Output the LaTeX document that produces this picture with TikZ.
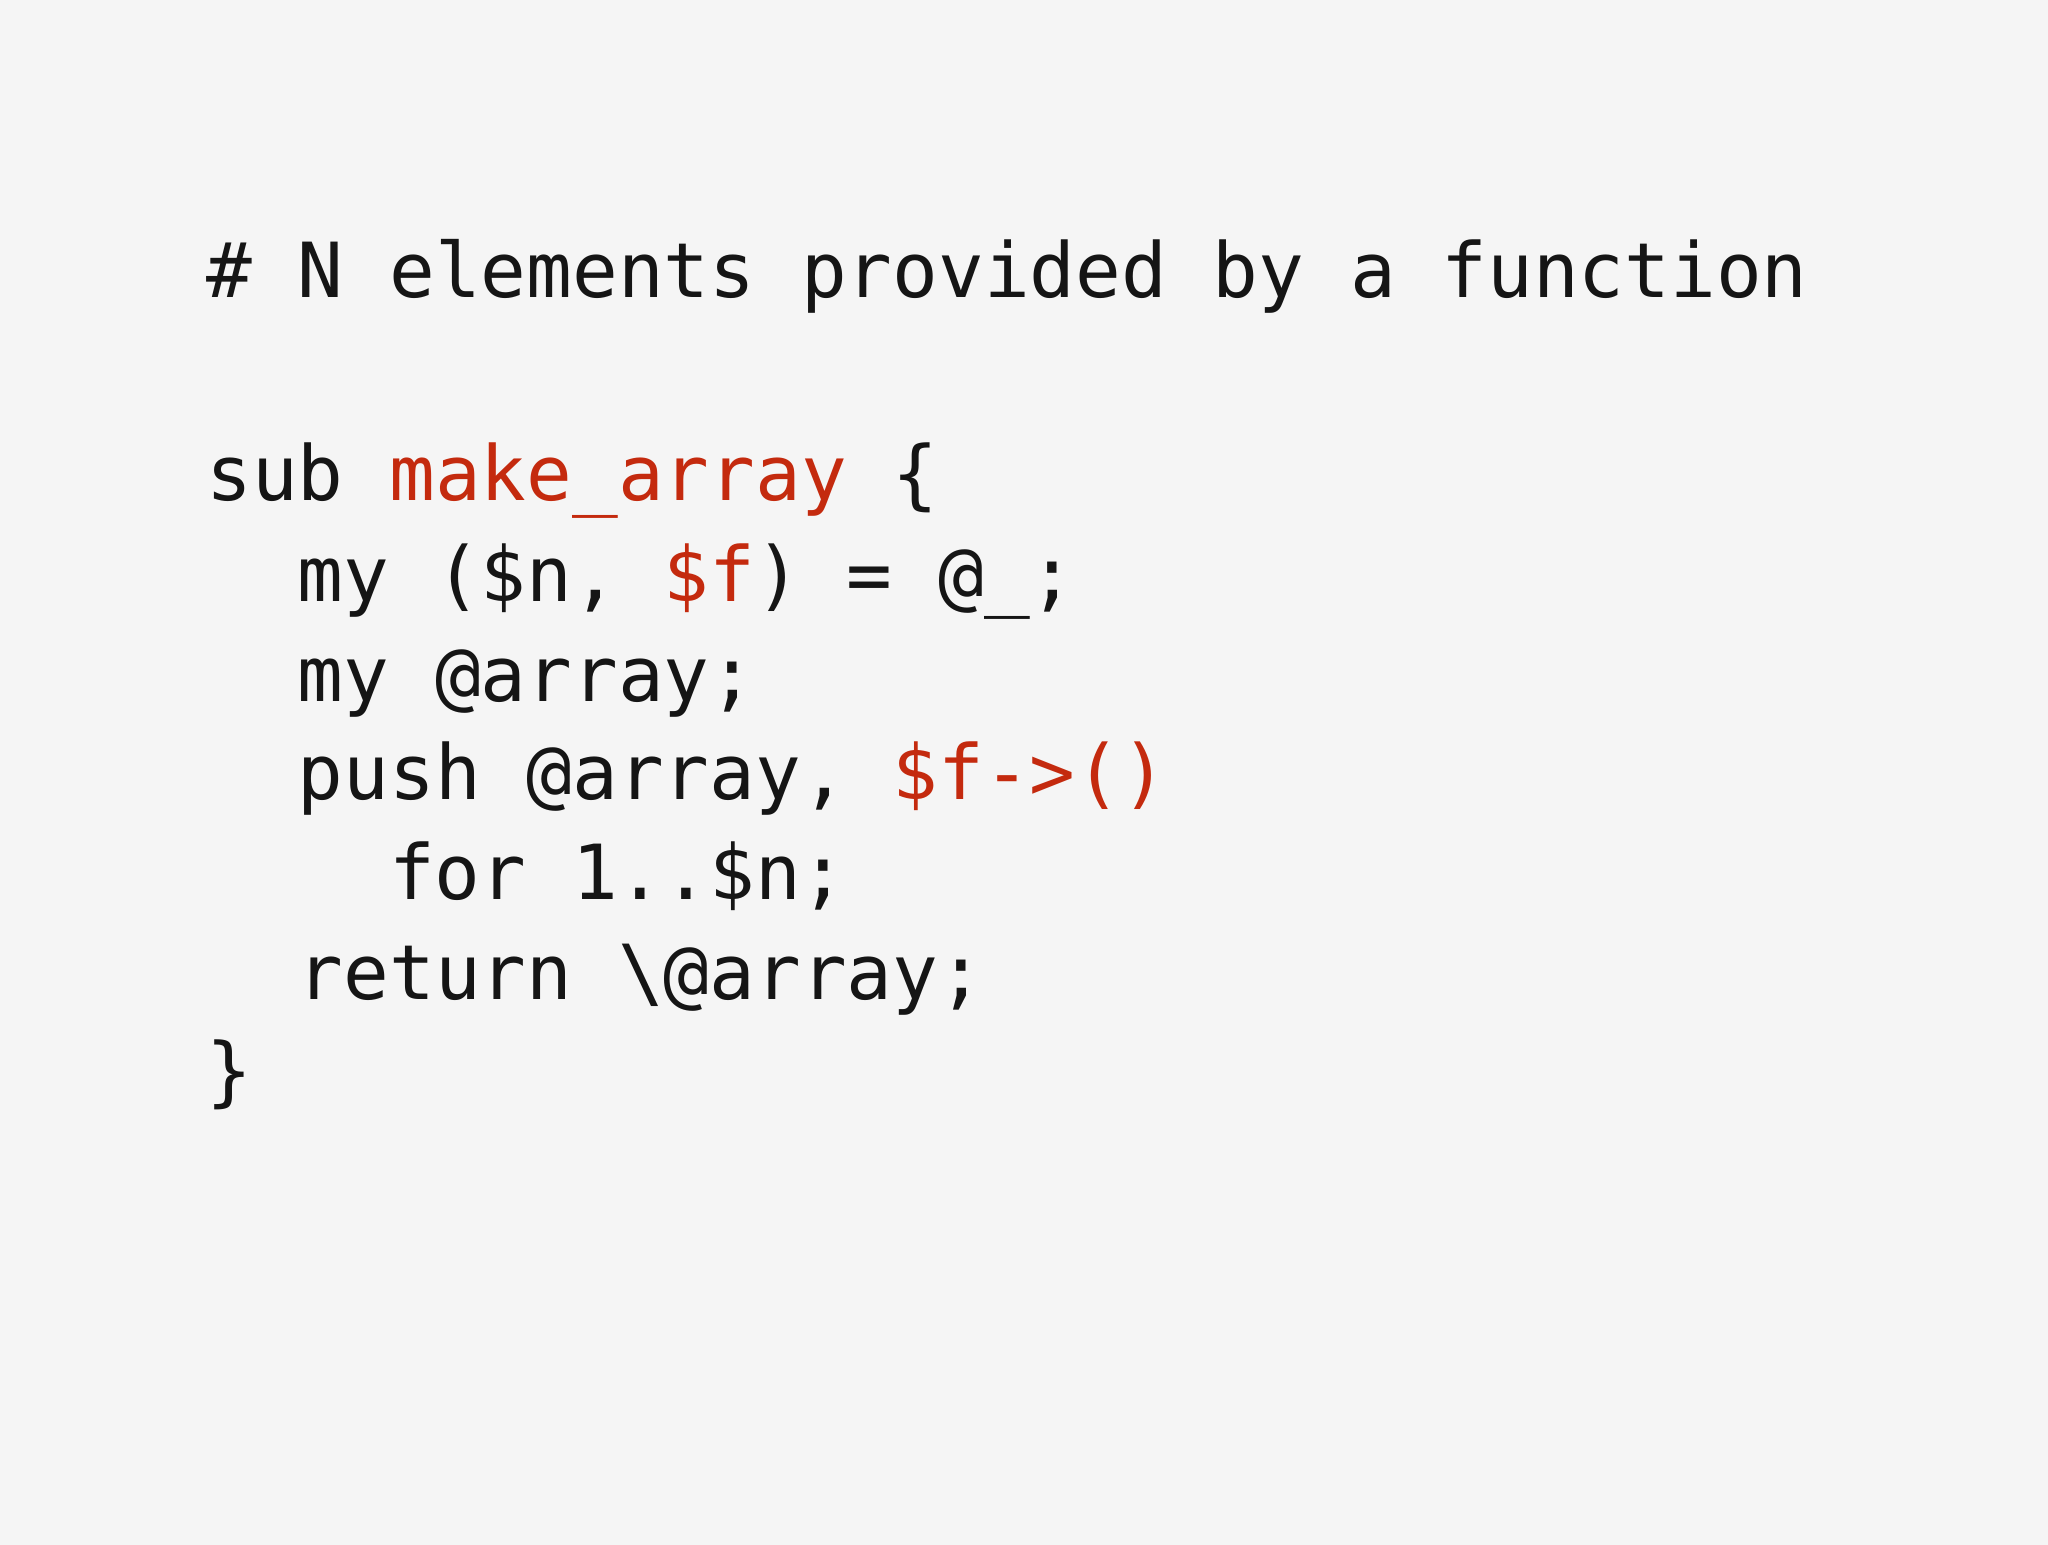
\documentclass[tikz,border=0pt]{standalone}
\usepackage{fontspec}
\setmonofont{DejaVu Sans Mono}
\definecolor{bg}{HTML}{F5F5F5}
\definecolor{kred}{HTML}{C42A0E}
\definecolor{ink}{HTML}{151515}
\begin{document}
\begin{tikzpicture}[x=1pt,y=1pt,
  code/.style={anchor=base west,inner sep=0pt,font=\fontsize{38}{40}\selectfont\ttfamily,text=ink}]
\fill[bg] (0,0) rectangle (1024,-772.5);
\useasboundingbox (0,0) rectangle (1024,-772.5);
\def\cw{22.85}
\node[code] (l0) at (103,-149) {\# N elements provided by a function};
\node[code] (l1) at (103,-250) {sub \textcolor{kred}{make\_array} \{};
\node[code] (l2) at (103+2*\cw,-300.5) {my (\$n, \textcolor{kred}{\$f}) = @\_;};
\node[code] (l3) at (103+2*\cw,-350.5) {my @array;};
\node[code] (l4) at (103+2*\cw,-399.5) {push @array, \textcolor{kred}{\$f->()}};
\node[code] (l5) at (103+4*\cw,-449.5) {for 1..\$n;};
\node[code] (l6) at (103+2*\cw,-499.5) {return \textbackslash @array;};
\node[code] (l7) at (103,-548.5) {\}};
\end{tikzpicture}
\end{document}
